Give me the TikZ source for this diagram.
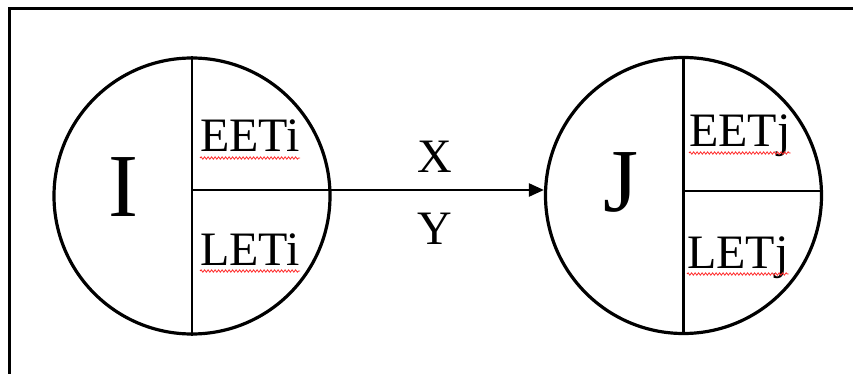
\documentclass[tikz,border=0pt]{standalone}
\usepackage{fontspec}
\setmainfont{Liberation Serif}
\usetikzlibrary{arrows.meta,calc,decorations.pathmorphing}

\begin{document}
\begin{tikzpicture}[x=1pt,y=-1pt,
event/.style={draw,circle,line width=3.2pt,minimum size=276pt,inner sep=0pt},
split/.style={line width=2.3pt},
big/.style={font=\fontsize{90}{100}\selectfont,inner sep=0pt,anchor=base},
lbl/.style={font=\fontsize{48}{56}\selectfont,inner sep=0pt},
squig/.style={draw=red!85,line width=0.8pt,decorate,decoration={snake,segment length=3.5pt,amplitude=1.2pt}},
arr/.style={-{Triangle[length=15pt,width=13pt]},line width=2.3pt}]
\useasboundingbox (0,0) rectangle (853,374);
\draw[line width=3pt] (9,374) -- (9,9) -- (853,9);
\node[event] (I) at (192,196) {};
\node[event] (J) at (683.5,195.5) {};
\coordinate (Iy) at ($(I.center)+(0,-6)$);
\coordinate (Jy) at ($(J.center)+(0,-4.5)$);
\draw[split] (I.north) -- (I.south);
\draw[split] (J.north) -- (J.south);
\draw[split] (Iy) -- (I.east|-Iy);
\draw[split] (Jy) -- (J.east|-Jy);
\node[big] (Ilbl) at (123,216) {I};
\node[big] (Jlbl) at (621,211) {J};
\node[lbl,anchor=base west] (EETi) at (200,152) {EETi};
\node[lbl,anchor=base west] (LETi) at (200,265) {LETi};
\node[lbl,anchor=base west] (EETj) at (689,147) {EETj};
\node[lbl,anchor=base west] (LETj) at (687,268) {LETj};
\foreach \t in {EETi,LETi,EETj,LETj}
  \draw[squig] ([yshift=-6pt]\t.base west) -- ([yshift=-6pt]\t.base east);
\draw[arr] (I.east|-Iy) -- (J.west|-Iy);
\node[lbl,anchor=base] (xl) at (435,173) {X};
\node[lbl,anchor=base] (yl) at (435,244) {Y};
\end{tikzpicture}
\end{document}
